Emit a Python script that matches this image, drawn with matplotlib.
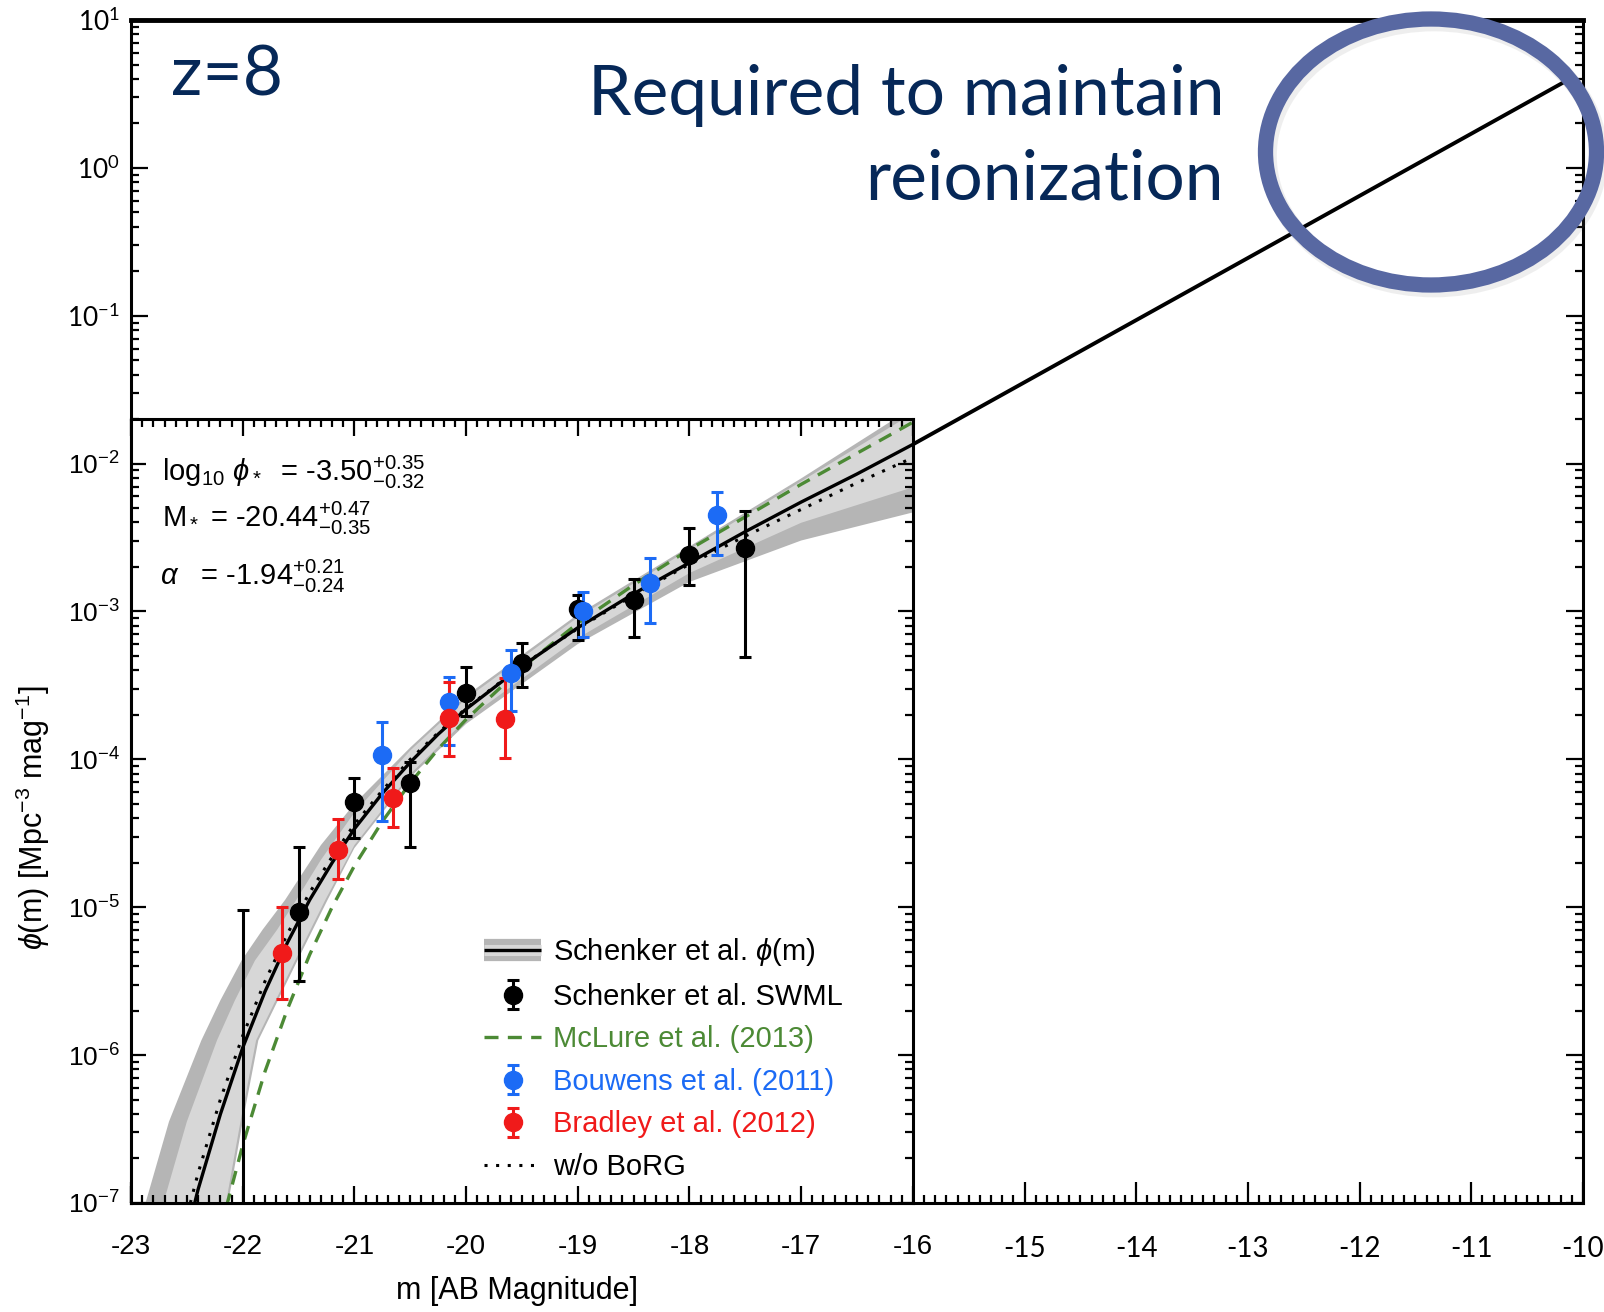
import numpy as np
import matplotlib.pyplot as plt
from matplotlib.patches import Ellipse
from matplotlib.lines import Line2D
from matplotlib.ticker import MultipleLocator, FixedLocator, LogLocator, NullFormatter

plt.rcParams['mathtext.fontset'] = 'custom'
plt.rcParams['mathtext.rm'] = 'Liberation Sans'
plt.rcParams['mathtext.it'] = 'Liberation Sans:italic'
plt.rcParams['mathtext.bf'] = 'Liberation Sans:bold'
plt.rcParams['font.family'] = ['Liberation Sans', 'DejaVu Sans']

# ---- data (log10 phi) ----
# Schenker et al. best fit
fit_m = [-22.6, -22.4, -22.2, -22.0, -21.8, -21.6, -21.4, -21.2, -21.0, -20.75, -20.5,
         -20.25, -20.0, -19.5, -19.0, -18.5, -18.0, -17.5, -17.0, -16.5, -16.0]
fit_log = [-7.52, -6.91, -6.40, -5.95, -5.57, -5.24, -4.95, -4.70, -4.47, -4.23, -4.02,
           -3.83, -3.66, -3.37, -3.11, -2.88, -2.67, -2.46, -2.26, -2.07, -1.87]
# w/o BoRG
noborg_log = [-7.38, -6.80, -6.30, -5.87, -5.50, -5.18, -4.90, -4.66, -4.44, -4.21, -4.00,
              -3.82, -3.655, -3.365, -3.115, -2.89, -2.68, -2.49, -2.31, -2.13, -1.96]
# McLure et al. (2013)
mclure_m = [-22.2, -22.0, -21.8, -21.6, -21.4, -21.2, -21.0, -20.75, -20.5, -20.25, -20.0,
            -19.5, -19.0, -18.5, -18.0, -17.5, -17.0, -16.5, -16.0]
mclure_log = [-7.18, -6.61, -6.11, -5.69, -5.32, -5.00, -4.72, -4.42, -4.16, -3.93, -3.73,
              -3.38, -3.08, -2.82, -2.58, -2.36, -2.14, -1.93, -1.72]

# confidence bands (edges)
dark_up_m = [-22.87, -22.66, -22.37, -22.20, -22.01, -21.82, -21.62, -21.3, -21.0, -20.5,
             -20.0, -19.0, -18.0, -17.0, -16.0]
dark_up_log = [-7.0, -6.45, -5.90, -5.63, -5.36, -5.15, -4.95, -4.58, -4.30, -3.92,
               -3.57, -3.02, -2.56, -2.10, -1.62]
dark_lo_m = [-22.13, -22.00, -21.86, -21.51, -21.24, -21.0, -20.5, -20.0, -19.0, -18.0, -17.0, -16.0]
dark_lo_log = [-7.0, -6.45, -5.90, -5.36, -4.95, -4.60, -4.12, -3.76, -3.22, -2.80, -2.52, -2.33]
light_up_m = [-22.71, -22.50, -22.23, -22.07, -21.89, -21.69, -21.52, -21.3, -21.0, -20.5,
              -20.0, -19.0, -18.0, -17.0, -16.0]
light_up_log = [-7.0, -6.45, -5.90, -5.63, -5.36, -5.15, -4.95, -4.68, -4.36, -3.94,
                -3.59, -3.04, -2.58, -2.12, -1.66]
light_lo_m = [-22.15, -22.02, -21.88, -21.53, -21.26, -21.0, -20.5, -20.0, -19.0, -18.0, -17.0, -16.0]
light_lo_log = [-7.0, -6.45, -5.90, -5.36, -4.95, -4.58, -4.10, -3.73, -3.18, -2.74, -2.40, -2.16]

# Schenker SWML points: value, top of error bar, bottom of error bar
swml_m = [-21.5, -21.0, -20.5, -20.0, -19.5, -19.0, -18.5, -18.0, -17.5]
swml_log = [-5.03, -4.29, -4.16, -3.55, -3.35, -2.98, -2.92, -2.62, -2.57]
swml_hi = [-4.59, -4.125, -4.02, -3.375, -3.21, -2.89, -2.78, -2.435, -2.32]
swml_lo = [-5.50, -4.53, -4.59, -3.71, -3.51, -3.19, -3.17, -2.82, -3.31]
# bright bin with only an upper bar
lim_m = [-22.0]
lim_hi = [-5.02]

# Bouwens et al. (2011)
bouw_m = [-20.75, -20.15, -19.6, -18.95, -18.35, -17.75]
bouw_log = [-3.97, -3.61, -3.415, -3.00, -2.81, -2.35]
bouw_hi = [-3.75, -3.44, -3.26, -2.87, -2.64, -2.19]
bouw_lo = [-4.42, -3.90, -3.67, -3.17, -3.08, -2.62]

# Bradley et al. (2012)
brad_m = [-21.65, -21.15, -20.65, -20.15, -19.65]
brad_log = [-5.31, -4.61, -4.26, -3.72, -3.73]
brad_hi = [-5.00, -4.40, -4.06, -3.48, -3.45]
brad_lo = [-5.62, -4.81, -4.46, -3.98, -3.99]

# extrapolation line to faint magnitudes
ext_m = [-16.0, -10.17]
ext_log = [-1.87, 0.58]

outer_xlabels = ['-15', '-14', '-13', '-12', '-11', '-10']
inner_xlabels = ['-23', '-22', '-21', '-20', '-19', '-18', '-17', '-16']

navy = '#062858'
band_dark = '#B5B5B5'
band_light = '#D7D7D7'
c_blue = '#1C6BF5'
c_red = '#F01A1A'
c_green = '#4C8A35'

W, H = 1604, 1312
fig = plt.figure(figsize=(W / 100, H / 100), dpi=100)

# ---- outer axes ----
ax = fig.add_axes([131 / W, 1 - 1203 / H, (1583 - 131) / W, (1203 - 20) / H])
ax.set_xlim(-23, -10)
ax.set_yscale('log')
ax.set_ylim(1e-7, 1e1)

ax.xaxis.set_major_locator(FixedLocator(np.arange(-23, -9)))
ax.xaxis.set_minor_locator(MultipleLocator(0.1))
ax.set_xticklabels([''] * 8 + outer_xlabels, fontfamily='Lato', fontsize=20)
decades = [10.0 ** k for k in range(-7, 2)]
ax.yaxis.set_major_locator(FixedLocator(decades))
ax.yaxis.set_minor_locator(LogLocator(base=10, subs=np.arange(2, 10)))
ax.yaxis.set_minor_formatter(NullFormatter())
ax.set_yticklabels([''] * 6 + [r'$\mathregular{10^{-1}}$', r'$\mathregular{10^{0}}$',
                               r'$\mathregular{10^{1}}$'], fontfamily='Lato', fontsize=19)
ax.tick_params(which='both', direction='in', top=False, right=True, width=1.6)
ax.tick_params(which='major', length=12, pad=8)
ax.tick_params(axis='x', which='major', length=15, pad=24)
ax.tick_params(which='minor', length=6)
ax.spines['top'].set_linewidth(3.5)
for s in ['left', 'right', 'bottom']:
    ax.spines[s].set_linewidth(2.2)

ax.plot(ext_m, 10.0 ** np.array(ext_log), color='k', lw=2.8, zorder=2)

# ---- inner panel (original figure) ----
top_in = 10 ** -1.70
p0 = fig.transFigure.inverted().transform(ax.transData.transform((-23, 1e-7)))
p1 = fig.transFigure.inverted().transform(ax.transData.transform((-16, top_in)))
ax_in = fig.add_axes([p0[0], p0[1], p1[0] - p0[0], p1[1] - p0[1]], zorder=3)
ax_in.set_facecolor('white')
ax_in.set_xlim(-23, -16)
ax_in.set_yscale('log')
ax_in.set_ylim(1e-7, top_in)

ax_in.fill(dark_up_m + dark_lo_m[::-1], 10.0 ** np.array(dark_up_log + dark_lo_log[::-1]),
           color=band_dark, lw=0, zorder=1)
ax_in.fill(light_up_m + light_lo_m[::-1], 10.0 ** np.array(light_up_log + light_lo_log[::-1]),
           color=band_light, lw=0, zorder=1.5)
ax_in.plot(mclure_m, 10.0 ** np.array(mclure_log), color=c_green, lw=2.4,
           dashes=(4.2, 2.8), zorder=2)
ax_in.plot(fit_m, 10.0 ** np.array(fit_log), color='k', lw=2.4, zorder=3)
ax_in.plot(fit_m, 10.0 ** np.array(noborg_log), color='k', lw=2.2,
           dashes=(1, 2.8), zorder=3)


def err_points(m, v, hi, lo, color):
    v = 10.0 ** np.array(v)
    yerr = [v - 10.0 ** np.array(lo), 10.0 ** np.array(hi) - v]
    return ax_in.errorbar(m, v, yerr=yerr, fmt='o', color=color, ms=13, elinewidth=2.2,
                          capsize=4, capthick=2.2, zorder=4)


ax_in.errorbar(lim_m, [1e-6], yerr=[[1e-6 - 1e-9], [10 ** lim_hi[0] - 1e-6]], fmt='none',
               ecolor='k', elinewidth=2.2, capsize=4, capthick=2.2, zorder=4)
eb_swml = err_points(swml_m, swml_log, swml_hi, swml_lo, 'k')
eb_bouw = err_points(bouw_m, bouw_log, bouw_hi, bouw_lo, c_blue)
eb_brad = err_points(brad_m, brad_log, brad_hi, brad_lo, c_red)

ax_in.xaxis.set_major_locator(FixedLocator(np.arange(-23, -15)))
ax_in.xaxis.set_minor_locator(MultipleLocator(0.1))
ax_in.set_xticklabels(inner_xlabels, fontsize=20)
ax_in.yaxis.set_major_locator(FixedLocator(decades[:6]))
ax_in.yaxis.set_minor_locator(LogLocator(base=10, subs=np.arange(2, 10)))
ax_in.yaxis.set_minor_formatter(NullFormatter())
ax_in.set_yticklabels([r'$\mathregular{10^{%d}}$' % k for k in range(-7, -1)], fontsize=19)
ax_in.tick_params(which='both', direction='in', top=True, right=True, width=1.6)
ax_in.tick_params(which='major', length=11, pad=8)
ax_in.tick_params(axis='x', which='major', length=12, pad=22)
ax_in.tick_params(which='minor', length=6)
for s in ax_in.spines.values():
    s.set_linewidth(2.2)

# fit parameters
ax_in.text(162 / W, 1 - 481 / H, r'log$_{10}$ $\phi_*$  = -3.50$^{+0.35}_{-0.32}$',
           transform=fig.transFigure, fontsize=21, va='baseline', ha='left')
ax_in.text(162 / W, 1 - 527 / H, r'M$_*$ = -20.44$^{+0.47}_{-0.35}$',
           transform=fig.transFigure, fontsize=21, va='baseline', ha='left')
ax_in.text(160 / W, 1 - 585 / H, r'$\alpha$   = -1.94$^{+0.21}_{-0.24}$',
           transform=fig.transFigure, fontsize=21, va='baseline', ha='left')

h_fit = (Line2D([], [], color=band_dark, lw=16, solid_capstyle='butt'),
         Line2D([], [], color=band_light, lw=8, solid_capstyle='butt'),
         Line2D([], [], color='k', lw=2.4, solid_capstyle='butt'))
h_mclure = Line2D([], [], color=c_green, lw=2.4, dashes=(4.2, 2.8))
h_dot = Line2D([], [], color='k', lw=2.2, dashes=(1, 2.8))
labels = [r'Schenker et al. $\phi$(m)', 'Schenker et al. SWML', 'McLure et al. (2013)',
          'Bouwens et al. (2011)', 'Bradley et al. (2012)', 'w/o BoRG']
ax_in.legend([h_fit, eb_swml, h_mclure, eb_bouw, eb_brad, h_dot], labels,
             loc='lower left', bbox_to_anchor=(0.452, 0.028), frameon=False,
             prop={'family': 'Liberation Sans', 'size': 21}, handlelength=1.95,
             handletextpad=0.4, labelspacing=0.5, borderpad=0, borderaxespad=0,
             labelcolor=['k', 'k', c_green, c_blue, c_red, 'k'])

fig.text(517 / W, 1 - 1291 / H, 'm [AB Magnitude]', fontsize=22, ha='center', va='center')
fig.text(33 / W, 1 - 818 / H, r'$\phi$(m) [Mpc$^{-3}$ mag$^{-1}$]', fontsize=22,
         rotation=90, ha='center', va='center')

# ---- slide annotations ----
fig.text(171 / W, 1 - 96 / H, 'z=8', fontfamily='Lato', fontsize=50, color=navy,
         ha='left', va='baseline')
fig.text(1224 / W, 1 - 115 / H, 'Required to maintain', fontfamily='Lato', fontsize=50,
         color=navy, ha='right', va='baseline')
fig.text(1224 / W, 1 - 200 / H, 'reionization', fontfamily='Lato', fontsize=50,
         color=navy, ha='right', va='baseline')

shadow = Ellipse((1434 / W, 1 - 156 / H), 331 / W, 266 / H, transform=fig.transFigure,
                 fill=False, ec='#7a7a7a', lw=12, alpha=0.12, zorder=9)
ring = Ellipse((1431 / W, 1 - 152 / H), 331 / W, 266 / H, transform=fig.transFigure,
               fill=False, ec='#5868A2', lw=11, zorder=10)
fig.patches.extend([shadow, ring])

fig.savefig('out.png', dpi=100)
